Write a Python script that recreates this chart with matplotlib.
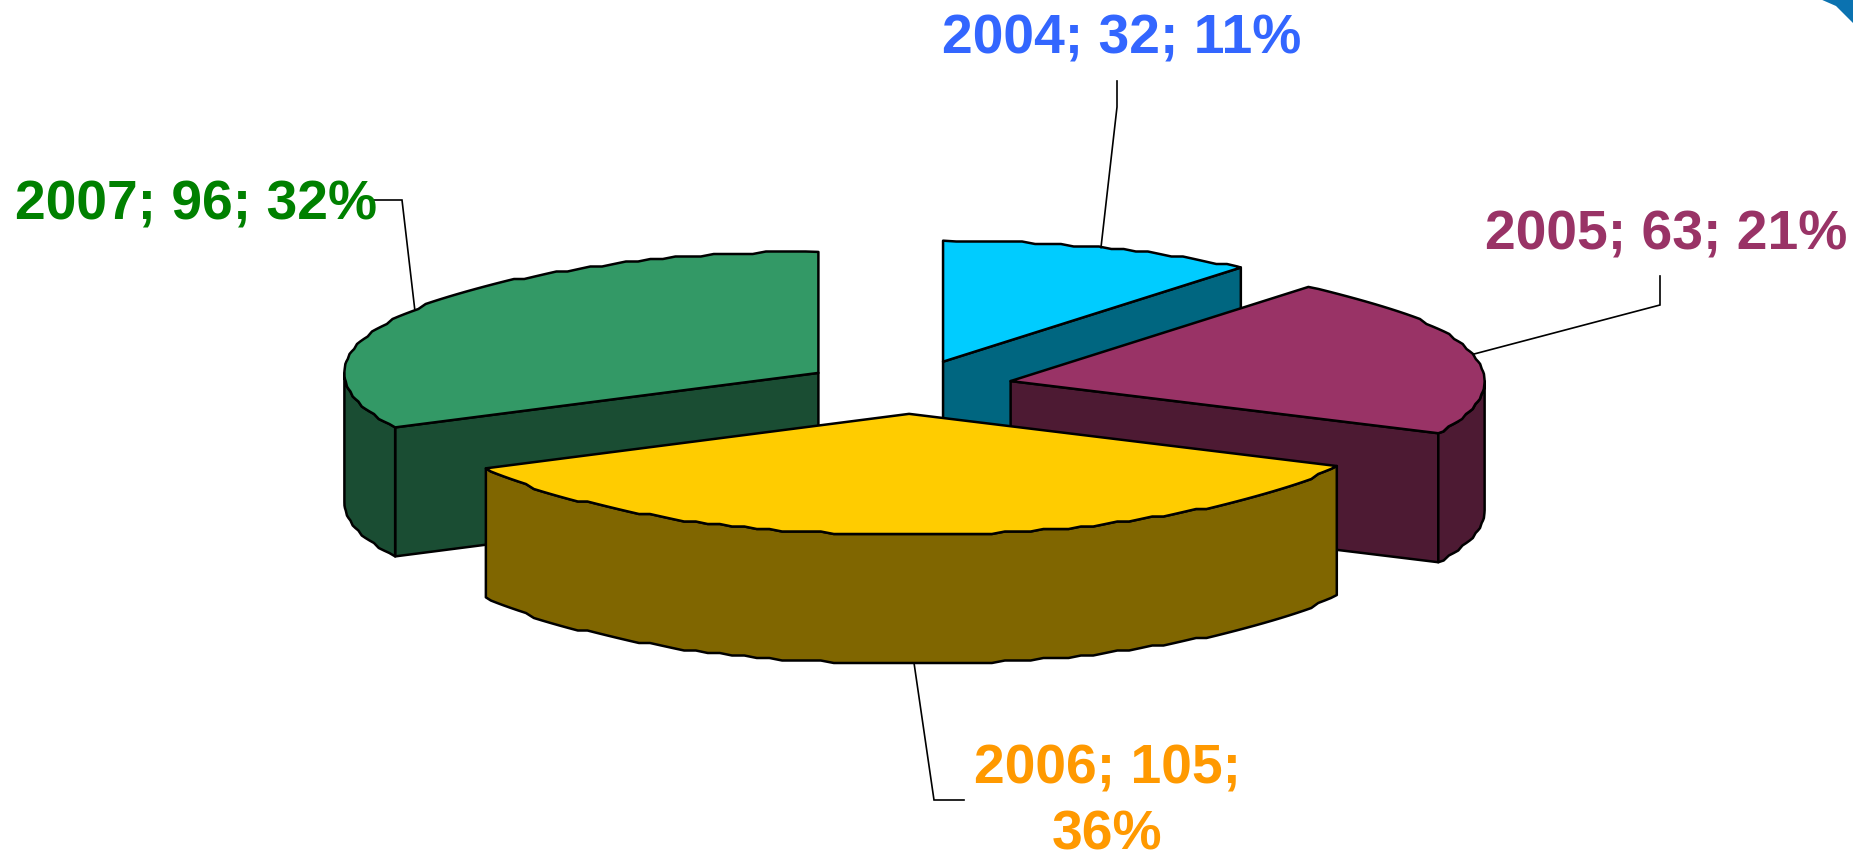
import numpy as np
import matplotlib
matplotlib.use('Agg')
import matplotlib.pyplot as plt
from matplotlib.patches import Polygon

# dados do grafico
years = ['2004', '2005', '2006', '2007']
values = [32, 63, 105, 96]
labels = ['2004; 32; 11%', '2005; 63; 21%', '2006; 105;\n36%', '2007; 96; 32%']

top_colors = ['#00CCFF', '#993366', '#FFCC00', '#339966']
side_colors = ['#006680', '#4D1A33', '#806600', '#1A4D33']
text_colors = ['#3366FF', '#993366', '#FF9900', '#008000']

# geometria da pizza 3D, em pixels
cx, cy = 908, 388
rx, ry = 474, 121
depth = 129
explode = 0.222
step = 2.5
draw_order = [0, 3, 1, 2]

# posicao do texto (x, baseline) e cotovelos das linhas de chamada
text_pos = [(1122, 53), (1485, 249), (1107, 850), (15, 219)]
text_ha = ['center', 'left', 'center', 'left']
elbows = [[(1117, 108), (1117, 82)],
          [(1660, 306), (1660, 277)],
          [(934, 801), (964, 801)],
          [(402, 201), (374, 201)]]


def rim(ox, oy, t0, t1):
    # arco da borda, com o serrilhado do original
    t = np.radians(np.arange(t0, t1, 1.6).tolist() + [t1])
    x = ox + rx * np.sin(t)
    y = oy - ry * np.cos(t)
    y[1:-1] = np.round(y[1:-1] / step) * step
    return np.column_stack([x, y])


fig = plt.figure(figsize=(18.53, 8.54), dpi=100)
ax = fig.add_axes([0, 0, 1, 1])
ax.set_xlim(0, 1853)
ax.set_ylim(854, 0)
ax.axis('off')

# canto azul do fundo do slide
ax.add_patch(Polygon([(1820, 0), (1836, 7), (1853, 24), (1853, 0)], fc='#0B72B0', ec='none'))

edges = np.cumsum([0] + values) / sum(values) * 360
anchors = {}
z = 2
for i in draw_order:
    t0, t1 = edges[i], edges[i + 1]
    mid = np.radians((t0 + t1) / 2)
    ox = cx + explode * rx * np.sin(mid)
    oy = cy - explode * ry * np.cos(mid)
    arc = rim(ox, oy, t0, t1)
    down = np.array([0, depth])
    apex = np.array([ox, oy])
    style = dict(ec='black', lw=1.8, joinstyle='round')

    # faces de corte visiveis
    if 180 < t0 < 360:
        ax.add_patch(Polygon([apex, arc[0], arc[0] + down, apex + down], fc=side_colors[i], zorder=z, **style))
    if 0 < t1 < 180:
        ax.add_patch(Polygon([apex, arc[-1], arc[-1] + down, apex + down], fc=side_colors[i], zorder=z, **style))

    # parede externa, so a parte da frente
    w0, w1 = max(t0, 90), min(t1, 270)
    if w0 < w1:
        wall = rim(ox, oy, w0, w1)
        ax.add_patch(Polygon(np.vstack([wall, wall[::-1] + down]), fc=side_colors[i], zorder=z, **style))

    # tampa
    ax.add_patch(Polygon(np.vstack([apex, arc]), fc=top_colors[i], zorder=z, **style))
    z += 1

    x_rim = ox + rx * np.sin(mid)
    y_rim = oy - ry * np.cos(mid)
    if np.cos(mid) < 0:
        y_rim += depth
    anchors[i] = (x_rim, y_rim)

for i in range(len(values)):
    xs, ys = zip(*([anchors[i]] + elbows[i]))
    ax.plot(xs, ys, color='black', lw=1.2, zorder=10, solid_joinstyle='miter')
    ax.text(text_pos[i][0], text_pos[i][1], labels[i], color=text_colors[i],
            family=['Liberation Sans', 'DejaVu Sans'], fontweight='bold', fontsize=39.8,
            ha=text_ha[i], va='baseline', multialignment='center', zorder=11, linespacing=1.36)

plt.savefig('out.png', dpi=100)
plt.close()
